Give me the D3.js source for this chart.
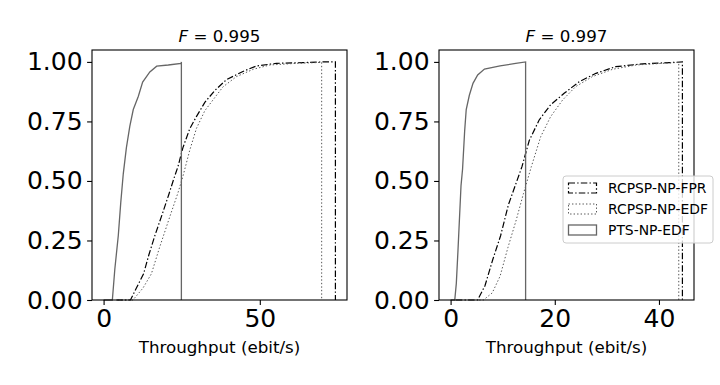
<!DOCTYPE html>
<html>
<head>
<meta charset="utf-8">
<script src="https://cdn.jsdelivr.net/npm/d3@7"></script>
<style>
  body { margin: 0; background: #fff; }
  text { font-family: "DejaVu Sans", sans-serif; }
</style>
</head>
<body>
<div id="chart"></div>
<script>
// CDF knots [throughput, cumulative fraction]
const leftFPR = [[4.1,0],[8.6,0],[10.5,0.05],[12.8,0.11],[14.5,0.19],[16.4,0.27],[18.5,0.35],[20.8,0.44],[22.5,0.51],[23.8,0.56],[25.4,0.64],[27.6,0.72],[29.7,0.77],[32.4,0.83],[35.6,0.88],[39.3,0.925],[44.6,0.96],[48.9,0.983],[55.3,0.994],[63.9,0.997],[70.3,1.0],[74.2,1.0]];
const leftEDF = [[4.5,0],[9.4,0],[12.6,0.05],[15.3,0.11],[17.9,0.22],[21.2,0.35],[23.8,0.45],[25.4,0.52],[27.6,0.63],[29.7,0.72],[32.4,0.795],[35.0,0.84],[38.2,0.895],[42.5,0.938],[47.9,0.969],[53.2,0.987],[61.7,0.994],[69.8,0.998]];
const leftPTS = [[0,0],[2.8,0],[3.6,0.13],[4.7,0.27],[5.5,0.41],[6.3,0.53],[7.3,0.64],[8.4,0.73],[9.5,0.80],[11.1,0.855],[12.5,0.915],[14.8,0.958],[17.0,0.982],[20.7,0.987],[24.8,0.994],[24.9,1.0]];

const rightFPR = [[1.0,0],[5.2,0],[6.6,0.06],[8.1,0.17],[9.6,0.27],[11.1,0.40],[12.4,0.48],[13.7,0.56],[15.1,0.67],[17.0,0.756],[19.2,0.82],[21.8,0.868],[24.7,0.917],[27.9,0.952],[31.7,0.98],[36.9,0.992],[42.0,0.997],[44.5,1.0]];
const rightEDF = [[5.5,0],[6.3,0],[8.0,0.03],[9.5,0.10],[11.0,0.22],[12.6,0.336],[14.0,0.448],[15.5,0.56],[17.3,0.686],[19.2,0.77],[21.5,0.84],[24.0,0.896],[27.2,0.938],[31.1,0.969],[35.6,0.987],[40.7,0.994],[43.8,0.998]];
const rightPTS = [[0,0],[0.8,0],[1.1,0.07],[1.4,0.2],[1.7,0.34],[2.0,0.48],[2.3,0.55],[2.7,0.71],[3.0,0.80],[3.6,0.86],[4.3,0.91],[5.2,0.945],[6.5,0.97],[9.5,0.983],[12.5,0.994],[14.4,1.0]];

const seriesNames = ['RCPSP-NP-FPR', 'RCPSP-NP-EDF', 'PTS-NP-EDF'];
const titles = ['0.995', '0.997'];
const yTicks = [0, 0.25, 0.5, 0.75, 1.0];
const xTicksLeft = [0, 50];
const xTicksRight = [0, 20, 40];

const styles = [
    {stroke: '#000', width: 1.2, dash: '6.5,2.2,1.4,2.2'},
    {stroke: '#555', width: 1.0, dash: '1.4,2.1'},
    {stroke: '#666', width: 1.3, dash: null}
];

const width = 720, height = 385;
const svg = d3.select('#chart').append('svg')
    .attr('width', width)
    .attr('height', height);

const panels = [
    {left: 92, series: [leftFPR, leftEDF, leftPTS], title: titles[0], xticks: xTicksLeft},
    {left: 439, series: [rightFPR, rightEDF, rightPTS], title: titles[1], xticks: xTicksRight}
];
const pw = 255, plotTop = 50, ph = 250;

panels.forEach(function(p) {
    const g = svg.append('g').attr('transform', 'translate(' + p.left + ',' + plotTop + ')');

    // matplotlib-like 5% margins on x, y sticks at 0
    const all = p.series.flat();
    const xmin = d3.min(all, d => d[0]), xmax = d3.max(all, d => d[0]);
    const pad = (xmax - xmin) * 0.05;
    const x = d3.scaleLinear().domain([xmin - pad, xmax + pad]).range([0, pw]);
    const y = d3.scaleLinear().domain([0, 1.05]).range([ph, 0]);

    const line = d3.line().x(d => x(d[0])).y(d => y(d[1]));

    p.series.forEach(function(s, i) {
        const last = s[s.length - 1];
        const pts = s.concat([[last[0], 0]]);
        g.append('path')
            .attr('d', line(pts))
            .attr('fill', 'none')
            .attr('stroke', styles[i].stroke)
            .attr('stroke-width', styles[i].width)
            .attr('stroke-dasharray', styles[i].dash);
    });

    const xAxis = g.append('g')
        .attr('transform', 'translate(0,' + ph + ')')
        .call(d3.axisBottom(x).tickValues(p.xticks).tickFormat(d3.format('d')).tickSize(4.9).tickPadding(4.5));
    const yAxis = g.append('g')
        .call(d3.axisLeft(y).tickValues(yTicks).tickFormat(d3.format('.2f')).tickSize(4.9).tickPadding(4.5));
    [xAxis, yAxis].forEach(function(a) {
        a.select('.domain').remove();
        a.selectAll('line').attr('stroke', '#000').attr('stroke-width', 1.1);
        a.selectAll('text').attr('font-size', 25).attr('fill', '#000')
            .attr('font-family', '"DejaVu Sans", sans-serif');
    });

    g.append('rect')
        .attr('width', pw).attr('height', ph)
        .attr('fill', 'none').attr('stroke', '#000').attr('stroke-width', 1.1);

    const t = g.append('text')
        .attr('x', pw / 2).attr('y', -8.5)
        .attr('text-anchor', 'middle')
        .attr('font-size', 16.7);
    t.append('tspan').attr('font-style', 'italic').text('F');
    t.append('tspan').text(' = ' + p.title);

    g.append('text')
        .attr('x', pw / 2).attr('y', ph + 53)
        .attr('text-anchor', 'middle')
        .attr('font-size', 16.7)
        .text('Throughput (ebit/s)');
});

// legend
const leg = svg.append('g').attr('transform', 'translate(563,176)');
leg.append('rect')
    .attr('width', 150).attr('height', 67).attr('rx', 3)
    .attr('fill', '#fff').attr('fill-opacity', 0.8)
    .attr('stroke', '#ccc').attr('stroke-width', 1);
seriesNames.forEach(function(name, i) {
    const yy = 12 + i * 21;
    leg.append('rect')
        .attr('x', 5.5).attr('y', yy - 5)
        .attr('width', 28).attr('height', 10)
        .attr('fill', 'none')
        .attr('stroke', styles[i].stroke)
        .attr('stroke-width', styles[i].width)
        .attr('stroke-dasharray', styles[i].dash);
    leg.append('text')
        .attr('x', 45).attr('y', yy + 5)
        .attr('font-size', 13.9)
        .text(name);
});
</script>
</body>
</html>
